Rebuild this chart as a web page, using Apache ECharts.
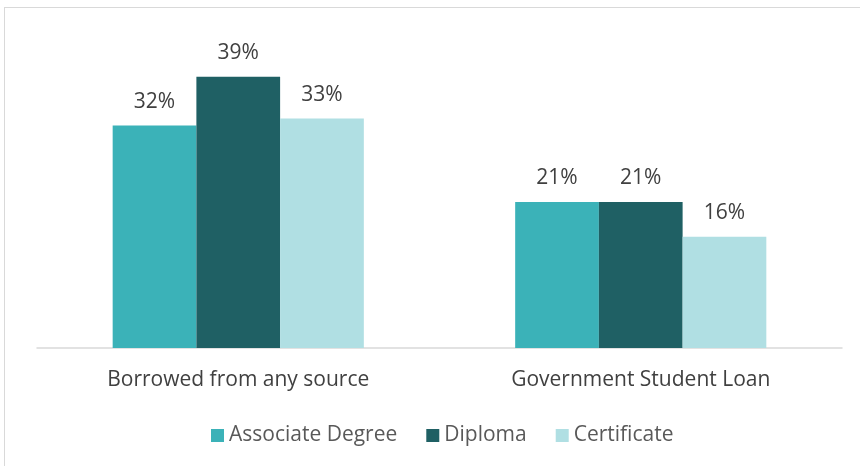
<!DOCTYPE html>
<html><head><meta charset="utf-8">
<script src="https://cdn.jsdelivr.net/npm/echarts@6/dist/echarts.min.js"></script>
<style>html,body{margin:0;padding:0;background:#fff}#c{width:860px;height:466px;position:relative}
#frame{position:absolute;left:4px;top:7px;width:900px;height:500px;border:1.5px solid #d9d9d9;box-sizing:border-box;pointer-events:none}</style>
</head><body><div id="c"></div><div id="frame"></div>
<script>
const categories = ['Borrowed from any source', 'Government Student Loan'];
const seriesNames = ['Associate Degree', 'Diploma', 'Certificate'];
const associate = [32, 21];
const diploma = [39, 21];
const certificate = [33, 16];
const colors = ['#3BB2B8', '#1F6064', '#B0DFE3'];
const font = 'Open Sans';
const chart = echarts.init(document.getElementById('c'));
const mk = (name, data, color) => ({
  name, type: 'bar', data, barGap: '0%', barCategoryGap: '37.6%',
  itemStyle: { color },
  label: { show: true, position: 'top', distance: 13, formatter: '{c}%', color: '#404040', fontSize: 21, fontFamily: font }
});
chart.setOption({
  animation: false,
  grid: { left: 37, right: 18, top: 35, bottom: 118 },
  legend: { bottom: 15, left: 206, itemWidth: 13, itemHeight: 13, itemGap: 29,
    textStyle: { color: '#595959', fontSize: 21, fontFamily: font }, icon: 'rect' },
  xAxis: { type: 'category', data: categories,
    axisLine: { lineStyle: { color: '#d9d9d9', width: 1.5 } }, axisTick: { show: false },
    axisLabel: { color: '#404040', fontSize: 21, fontFamily: font, margin: 22 } },
  yAxis: { type: 'value', min: 0, max: 45, show: false },
  series: [mk(seriesNames[0], associate, colors[0]), mk(seriesNames[1], diploma, colors[1]), mk(seriesNames[2], certificate, colors[2])]
});
</script></body></html>
